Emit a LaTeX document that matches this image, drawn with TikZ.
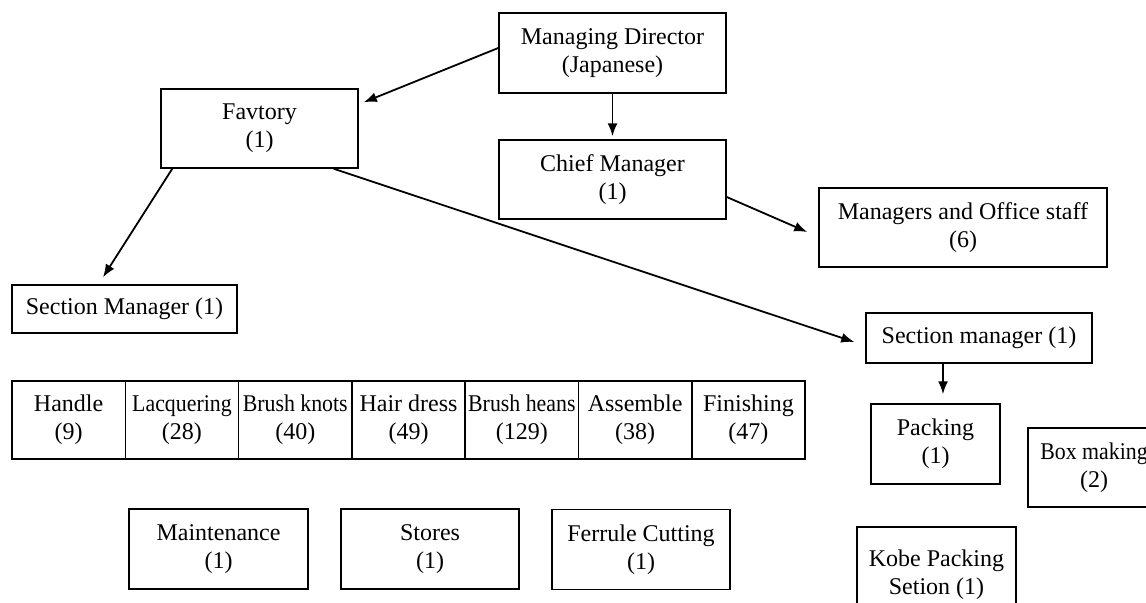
\documentclass[tikz,border=0pt]{standalone}
\usepackage{fontspec}
\setmainfont{Liberation Serif}
\newfontfamily\narrowserif{Liberation Serif}[FakeStretch=0.91]
\usetikzlibrary{arrows.meta,positioning}

\begin{document}
\begin{tikzpicture}[x=0.5pt,y=-0.5pt,
    box/.style={draw=black,line width=0.75pt,align=center,inner sep=0pt,
      font=\fontsize{12}{14}\selectfont},
    cell/.style={box,outer sep=0pt,minimum width=56.65pt,minimum height=39pt},
    link/.style={draw=black,line width=0.9pt,-{Latex[length=6.5pt,width=5pt]}}]
    \useasboundingbox (0,0) rectangle (1146,602);
    \node[box,minimum width=113.5pt,minimum height=40pt] (md) at (612.5,53) {Managing Director\\(Japanese)};
    \node[box,minimum width=98.5pt,minimum height=39.5pt] (fac) at (259.5,128.5) {Favtory\\(1)};
    \node[box,minimum width=113.5pt,minimum height=39.5pt] (chief) at (612.5,179.5) {Chief Manager\\(1)};
    \node[box,minimum width=144pt,minimum height=39.5pt] (staff) at (963,227.5) {Managers and Office staff\\(6)};
    \node[box,minimum width=112.5pt,minimum height=24pt] (secl) at (124.5,309) {Section Manager (1)};
    \node[box,minimum width=113pt,minimum height=25pt] (secr) at (979,338) {Section manager (1)};
    \foreach \txt [count=\i] in {Handle\\(9), \narrowserif Lacquering\\(28),
        \narrowserif Brush knots\\(40), Hair dress\\(49), \narrowserif Brush heans\\(129),
        Assemble\\(38), Finishing\\(47)}
      \node[cell] (cell\i) at (12+113.3*\i-56.65,420) {\txt};
    \node[box,minimum width=89.5pt,minimum height=40pt] (maint) at (218.5,549) {Maintenance\\(1)};
    \node[box,minimum width=89pt,minimum height=40pt] (stores) at (430,549) {Stores\\(1)};
    \node[box,minimum width=89pt,minimum height=40pt] (ferrule) at (641,549.5) {Ferrule Cutting\\(1)};
    \node[box,minimum width=64.5pt,minimum height=40pt] (packing) at (935.5,444) {Packing\\(1)};
    \node[box,minimum width=66pt,minimum height=39.5pt] (boxmaking) at (1094,467.5) {\narrowserif Box making\\(2)};
    \node[box,minimum width=79.5pt,minimum height=48pt] (kobe) at (936.5,575) {Kobe Packing\\Setion (1)};
    \draw[link] ([yshift=2.5pt]md.west) -- ([xshift=2.5pt,yshift=-7pt]fac.north east);
    \draw[link,shorten >=1.5pt] (md.south) -- (chief.north);
    \draw[link] ([yshift=-8.75pt]chief.east) -- ([xshift=-5.5pt,yshift=-2.25pt]staff.west);
    \draw[link] ([xshift=6pt]fac.south west) -- ([xshift=-10.75pt,yshift=3.5pt]secl.north);
    \draw[link] ([xshift=-12.5pt]fac.south east) -- ([xshift=-5.5pt,yshift=-2pt]secr.west);
    \draw[link,shorten >=4.5pt] ([xshift=-18pt]secr.south) -- ([xshift=3.75pt]packing.north);
\end{tikzpicture}
\end{document}
